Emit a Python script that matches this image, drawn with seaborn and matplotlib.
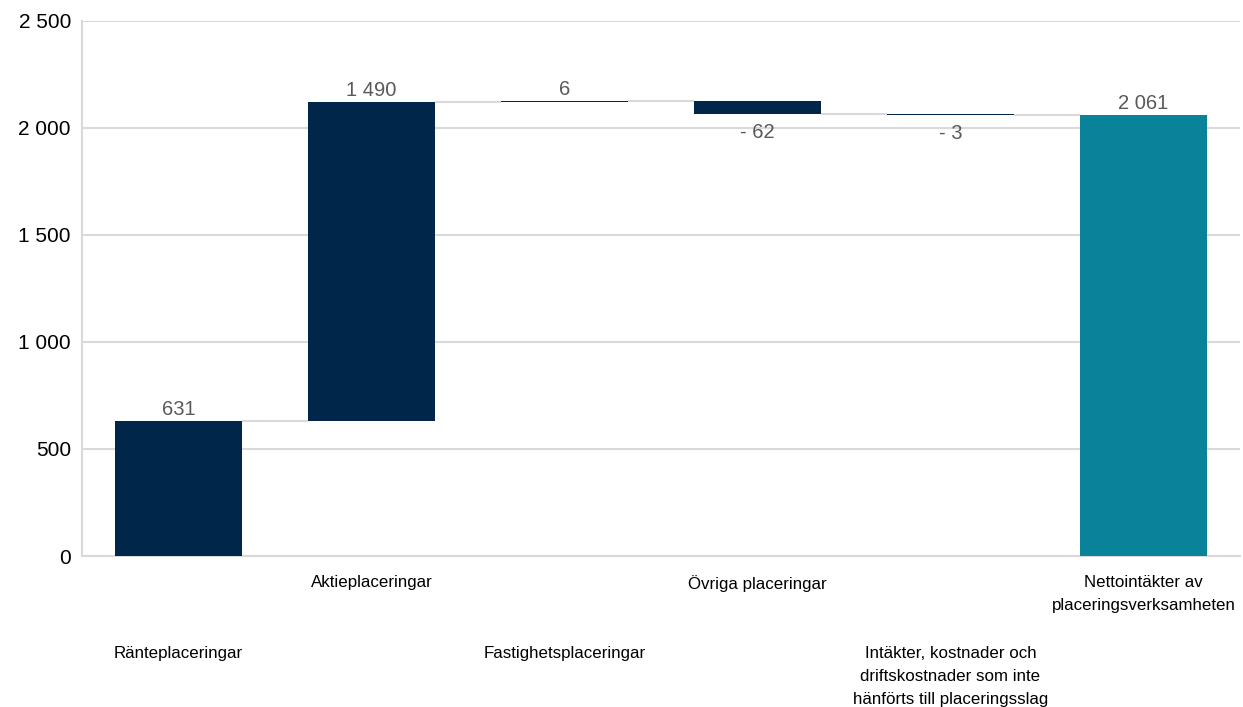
import numpy as np
import pandas as pd
import matplotlib
matplotlib.use("Agg")
import matplotlib.pyplot as plt
from matplotlib import font_manager
import seaborn as sns

# ---- data ----
categories = [
    "Ränteplaceringar",
    "Aktieplaceringar",
    "Fastighetsplaceringar",
    "Övriga placeringar",
    "Intäkter, kostnader och\ndriftskostnader som inte\nhänförts till placeringsslag",
    "Nettointäkter av\nplaceringsverksamheten",
]
changes = [631, 1490, 6, -62, -3]
total = 2061
y_ticks = [0, 500, 1000, 1500, 2000, 2500]

NAVY = "#00264A"
TEAL = "#0A8299"
GRID = "#D9D9D9"
LABEL = "#595959"

sns.set_theme(style="white")
plt.rcParams["font.family"] = ["Liberation Sans", "DejaVu Sans"]

names = {f.name for f in font_manager.fontManager.ttflist}
if "Liberation Sans Narrow" in names:
    cat_family = ["Liberation Sans Narrow", "Liberation Sans"]
    cat_size = 14.5
else:
    cat_family = ["Liberation Sans", "DejaVu Sans"]
    cat_size = 12.2

cum = np.cumsum(changes)
heights = list(changes) + [total]
bottoms = list(np.concatenate([[0], cum[:-1]])) + [0]
levels = list(cum) + [total]
df = pd.DataFrame({"cat": categories, "h": heights})

fig = plt.figure(figsize=(12.43, 7.07), dpi=100)
ax = fig.add_axes([82 / 1243, 1 - 556 / 707, (1240 - 82) / 1243, (556 - 21) / 707])

sns.barplot(data=df, x="cat", y="h", order=categories, bottom=bottoms,
            color=NAVY, saturation=1, width=0.66, ax=ax, zorder=3)
for i, p in enumerate(ax.patches):
    p.set_facecolor(TEAL if i == len(categories) - 1 else NAVY)
    p.set_edgecolor("none")

# connector lines
w = 0.66
for i in range(len(categories) - 1):
    ax.plot([i + w / 2, i + 1 - w / 2], [levels[i], levels[i]],
            color=GRID, lw=1.5, zorder=2, solid_capstyle="butt")

# value labels
def fmt(v):
    s = f"{abs(v):,}".replace(",", " ")
    return f"- {s}" if v < 0 else s

for i, v in enumerate(heights):
    top = bottoms[i] + v
    if v >= 0:
        ax.annotate(fmt(v), (i, top), xytext=(0, 1.5), textcoords="offset points",
                    ha="center", va="bottom", fontsize=14.5, color=LABEL)
    else:
        ax.annotate(fmt(v), (i, top), xytext=(0, -6.5), textcoords="offset points",
                    ha="center", va="top", fontsize=14.5, color=LABEL)

ax.set_xlim(-0.5, len(categories) - 0.5)
ax.set_ylim(0, 2500)
ax.set_yticks(y_ticks)
ax.set_yticklabels([f"{t:,}".replace(",", " ") for t in y_ticks], fontsize=15, color="black")
ax.yaxis.grid(True, color=GRID, lw=1.5, zorder=0)
ax.set_axisbelow(True)
ax.tick_params(axis="both", length=0)
ax.tick_params(axis="y", pad=8)

ax.set_xticks(range(len(categories)))
ax.set_xticklabels(categories, fontsize=cat_size, color="black",
                   family=cat_family, va="top", ha="center", multialignment="center",
                   linespacing=1.7)
for i, t in enumerate(ax.xaxis.get_major_ticks()):
    t.set_pad(64.5 if i % 2 == 0 else 13.5)

ax.set_xlabel("")
ax.set_ylabel("")
for s in ["top", "right"]:
    ax.spines[s].set_visible(False)
for s in ["left", "bottom"]:
    ax.spines[s].set_color(GRID)
    ax.spines[s].set_linewidth(1.5)

fig.savefig("out.png", dpi=100, facecolor="white")
